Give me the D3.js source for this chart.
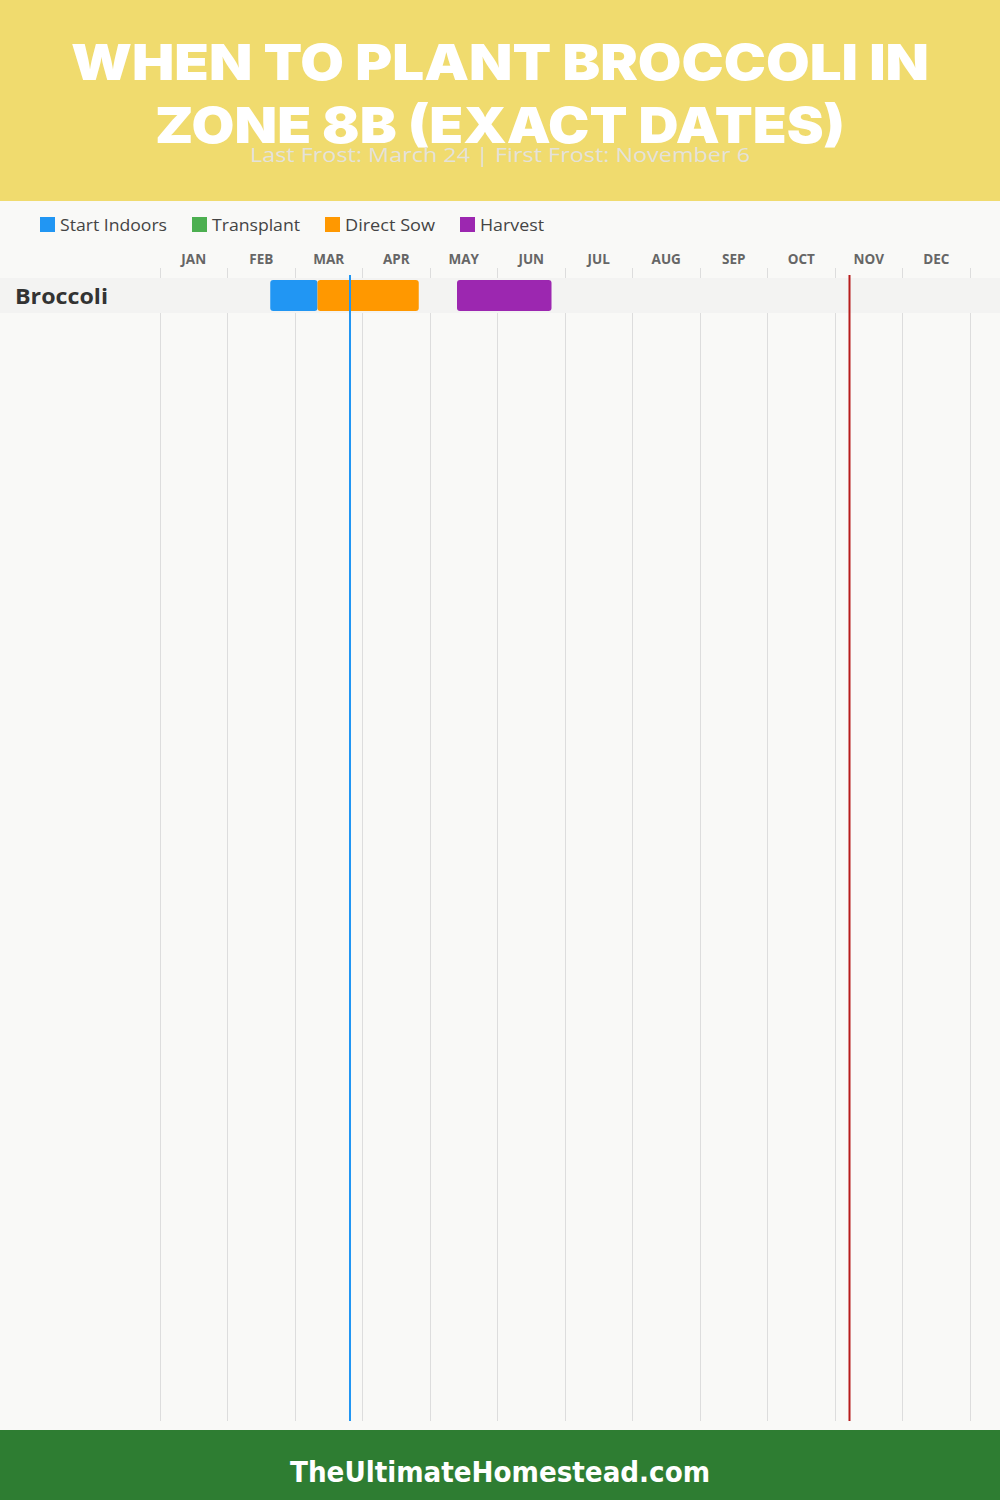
<!DOCTYPE html>
<html>
<head>
<meta charset="utf-8">
<script src="https://cdn.jsdelivr.net/npm/d3@7"></script>
<style>
  html, body { margin: 0; padding: 0; background: #f9f9f7; }
  svg { display: block; }
</style>
</head>
<body>
<script>
// ---- Data ----
const titleLines = ["WHEN TO PLANT BROCCOLI IN", "ZONE 8B (EXACT DATES)"];
const subtitle = "Last Frost: March 24 | First Frost: November 6";
const footerText = "TheUltimateHomestead.com";
const months = ["JAN","FEB","MAR","APR","MAY","JUN","JUL","AUG","SEP","OCT","NOV","DEC"];
const legendNames = ["Start Indoors", "Transplant", "Direct Sow", "Harvest"];
const legendColors = ["#2196f3", "#4caf50", "#ff9800", "#9c27b0"];
const crops = ["Broccoli"];
// tasks: [crop, activity, startMonth, startDay, endMonth, endDay]
const tasks = [
  ["Broccoli", "Start Indoors", 2, 19, 3, 10],
  ["Broccoli", "Direct Sow",    3, 10, 4, 25],
  ["Broccoli", "Harvest",       5, 12, 6, 24]
];
const lastFrost = [3, 24];
const firstFrost = [11, 6];

// ---- Layout ----
const W = 1000, H = 1500;
const svg = d3.select("body").append("svg").attr("width", W).attr("height", H);

const toPos = (m, d) => (m - 1) + d / 30;
const x = d3.scaleLinear().domain([0, 12]).range([160, 970]);
const y = d3.scaleBand().domain(crops).range([278, 278 + 35 * crops.length]);
const color = d3.scaleOrdinal().domain(legendNames).range(legendColors);

svg.append("rect").attr("x", 0).attr("y", 0).attr("width", W).attr("height", H).attr("fill", "#f9f9f7");

// header
svg.append("rect").attr("x", 0).attr("y", 0).attr("width", W).attr("height", 201).attr("fill", "#f0db6e");
const titleWidths = [858, 690];
svg.selectAll("text.title").data(titleLines).join("text")
  .attr("class", "title")
  .attr("x", W / 2).attr("y", (d, i) => 80 + i * 63)
  .attr("text-anchor", "middle")
  .attr("font-family", "Inter, 'Open Sans', sans-serif")
  .attr("font-weight", 900)
  .attr("font-size", 50)
  .attr("fill", "#ffffff")
  .attr("textLength", (d, i) => titleWidths[i])
  .attr("lengthAdjust", "spacingAndGlyphs")
  .text(d => d);
svg.append("text")
  .attr("x", W / 2).attr("y", 162)
  .attr("text-anchor", "middle")
  .attr("font-family", "'Open Sans', sans-serif")
  .attr("font-size", 20)
  .attr("fill", "#e4e2da")
  .attr("textLength", 500)
  .attr("lengthAdjust", "spacingAndGlyphs")
  .text(subtitle);

// legend
const legendX = [40, 192, 325, 460];
const legendTW = [107, 88, 90, 64];
const lg = svg.append("g");
lg.selectAll("rect").data(legendNames).join("rect")
  .attr("x", (d, i) => legendX[i]).attr("y", 217)
  .attr("width", 15).attr("height", 15)
  .attr("fill", d => color(d));
lg.selectAll("text").data(legendNames).join("text")
  .attr("x", (d, i) => legendX[i] + 20).attr("y", 231)
  .attr("font-family", "'Open Sans', sans-serif")
  .attr("font-weight", 500)
  .attr("font-size", 16)
  .attr("fill", "#444")
  .attr("textLength", (d, i) => legendTW[i])
  .attr("lengthAdjust", "spacingAndGlyphs")
  .text(d => d);

// month labels
svg.append("g").selectAll("text").data(months).join("text")
  .attr("x", (d, i) => x(i + 0.5)).attr("y", 264)
  .attr("text-anchor", "middle")
  .attr("font-family", "'Open Sans', sans-serif")
  .attr("font-weight", 700)
  .attr("font-size", 13.5)
  .attr("fill", "#666")
  .text(d => d);

// grid lines
svg.append("g").selectAll("line").data(d3.range(13)).join("line")
  .attr("x1", d => x(d)).attr("x2", d => x(d))
  .attr("y1", 268).attr("y2", 1421)
  .attr("stroke", "#dddddd").attr("stroke-width", 1)
  .attr("shape-rendering", "crispEdges");

// row bands
svg.append("g").selectAll("rect").data(crops).join("rect")
  .attr("x", 0).attr("y", d => y(d))
  .attr("width", W).attr("height", y.bandwidth())
  .attr("fill", "#f3f3f2");

svg.append("g").selectAll("text").data(crops).join("text")
  .attr("x", 15).attr("y", d => y(d) + 26)
  .attr("font-family", "'Open Sans', sans-serif")
  .attr("font-weight", 700)
  .attr("font-size", 21)
  .attr("fill", "#333")
  .attr("textLength", 93)
  .attr("lengthAdjust", "spacingAndGlyphs")
  .text(d => d);

// bars
svg.append("g").selectAll("rect").data(tasks).join("rect")
  .attr("x", d => x(toPos(d[2], d[3])))
  .attr("y", d => y(d[0]) + 2)
  .attr("width", d => x(toPos(d[4], d[5])) - x(toPos(d[2], d[3])))
  .attr("height", y.bandwidth() - 4)
  .attr("rx", 3)
  .attr("fill", d => color(d[1]));

// frost lines
const frost = [[lastFrost, "#2196f3"], [firstFrost, "#b71c1c"]];
svg.append("g").selectAll("rect").data(frost).join("rect")
  .attr("x", d => x(toPos(d[0][0], d[0][1])))
  .attr("y", 275)
  .attr("width", 2)
  .attr("height", 1421 - 275)
  .attr("fill", d => d[1]);

// footer
svg.append("rect").attr("x", 0).attr("y", 1430).attr("width", W).attr("height", 70).attr("fill", "#2e7d32");
svg.append("text")
  .attr("x", W / 2).attr("y", 1482)
  .attr("text-anchor", "middle")
  .attr("font-family", "'DejaVu Sans Condensed', 'DejaVu Sans', sans-serif")
  .attr("font-weight", 700)
  .attr("font-size", 29)
  .attr("fill", "#ffffff")
  .attr("textLength", 420)
  .attr("lengthAdjust", "spacingAndGlyphs")
  .text(footerText);
</script>
</body>
</html>
